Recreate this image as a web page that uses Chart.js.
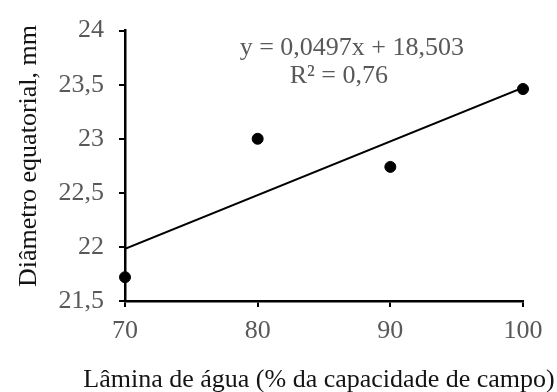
<!DOCTYPE html>
<html>
<head>
<meta charset="utf-8">
<script src="https://cdn.jsdelivr.net/npm/chart.js@4/dist/chart.umd.min.js"></script>
<style>
  html, body { margin: 0; padding: 0; background: #fff; }
  #chart { display: block; }
</style>
</head>
<body>
<canvas id="chart" width="557" height="392"></canvas>
<script>
// Irrigation levels (% of field capacity) and measured equatorial diameter (mm)
const laminas = [70, 80, 90, 100];
const diametros = [21.72, 23.0, 22.74, 23.46];

// Linear fit reported on the plot
const slope = 0.0497;
const intercept = 18.503;
const r2 = 0.76;

const xTicks = [70, 80, 90, 100];
const yTicks = [21.5, 22, 22.5, 23, 23.5, 24];

const xTitle = 'Lâmina de água (% da capacidade de campo)';
const yTitle = 'Diâmetro equatorial, mm';

const serif = '"Liberation Serif", "Times New Roman", serif';
const fontSize = 26;
const fmt = v => String(v).replace('.', ',');

Chart.defaults.font.family = serif;
Chart.defaults.font.size = fontSize;

const trendData = [xTicks[0], xTicks[xTicks.length - 1]].map(x => ({ x: x, y: slope * x + intercept }));

// Axis titles and the fitted equation, drawn by hand so they can sit off-centre
const textLayer = {
  id: 'textLayer',
  afterDraw(chart) {
    const { ctx, scales } = chart;
    ctx.save();
    ctx.font = fontSize + 'px ' + serif;
    ctx.textAlign = 'center';
    ctx.textBaseline = 'alphabetic';

    // equation + R²
    ctx.fillStyle = '#595959';
    const cx = scales.x.getPixelForValue(87.1);
    ctx.fillText('y = ' + fmt(slope) + 'x + ' + fmt(intercept), cx, scales.y.getPixelForValue(23.77));
    ctx.fillText('R² = ' + fmt(r2), cx - 13, scales.y.getPixelForValue(23.52));

    // x title, a little left of the axis centre
    ctx.fillStyle = '#141414';
    ctx.fillText(xTitle, (scales.x.left + scales.x.right) / 2 - 5, 387);

    // y title, rotated
    ctx.translate(36, scales.y.getPixelForValue(22.84));
    ctx.rotate(-Math.PI / 2);
    ctx.fillText(yTitle, 0, 0);
    ctx.restore();
  }
};

new Chart(document.getElementById('chart'), {
  type: 'scatter',
  data: {
    datasets: [
      {
        label: 'Linear',
        type: 'line',
        data: trendData,
        borderColor: '#000',
        borderWidth: 2,
        pointRadius: 0,
        fill: false
      },
      {
        label: 'Diâmetro',
        data: laminas.map((x, i) => ({ x: x, y: diametros[i] })),
        backgroundColor: '#000',
        borderColor: '#000',
        pointRadius: 5.5,
        pointHoverRadius: 5.5,
        clip: false
      }
    ]
  },
  options: {
    responsive: false,
    animation: false,
    layout: { padding: { top: 29, right: 34, left: 0, bottom: 0 } },
    plugins: {
      legend: { display: false },
      tooltip: { enabled: false }
    },
    scales: {
      x: {
        type: 'linear',
        min: 70,
        max: 100,
        afterBuildTicks: s => { s.ticks = xTicks.map(v => ({ value: v })); },
        afterFit: s => { s.height = 91; },
        grid: { drawOnChartArea: false, drawTicks: true, tickLength: 6, color: '#000', lineWidth: 2 },
        border: { display: true, color: '#000', width: 2.5 },
        ticks: { color: '#595959', font: { family: serif, size: fontSize }, padding: 9, maxRotation: 0 }
      },
      y: {
        type: 'linear',
        min: 21.5,
        max: 24,
        afterBuildTicks: s => { s.ticks = yTicks.map(v => ({ value: v })); },
        afterFit: s => { s.width = 125; },
        grid: { drawOnChartArea: false, drawTicks: true, tickLength: 6, color: '#000', lineWidth: 2 },
        border: { display: true, color: '#000', width: 2.5 },
        ticks: { color: '#595959', font: { family: serif, size: fontSize }, padding: 15, callback: v => fmt(v) }
      }
    }
  },
  plugins: [textLayer]
});
</script>
</body>
</html>
